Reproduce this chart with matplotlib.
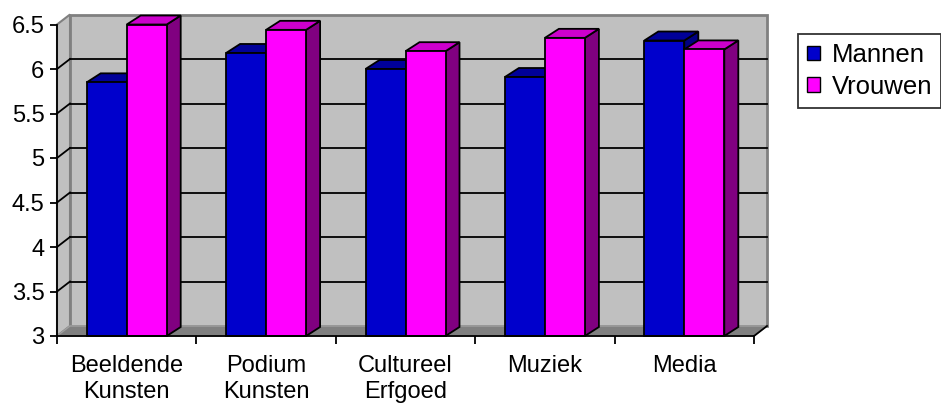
import matplotlib
matplotlib.use('Agg')
import matplotlib.pyplot as plt
from matplotlib.patches import Polygon, Rectangle, Patch
import numpy as np

categories = ['Beeldende\nKunsten', 'Podium\nKunsten', 'Cultureel\nErfgoed', 'Muziek', 'Media']
mannen = [5.85, 6.18, 6.0, 5.91, 6.32]
vrouwen = [6.5, 6.44, 6.2, 6.35, 6.22]
yticks = [3, 3.5, 4, 4.5, 5, 5.5, 6, 6.5]
ytick_labels = ['3', '3.5', '4', '4.5', '5', '5.5', '6', '6.5']
series_names = ['Mannen', 'Vrouwen']

plt.rcParams['font.family'] = ['Liberation Sans', 'DejaVu Sans']

W, H = 941, 403
fig = plt.figure(figsize=(W / 100, H / 100), dpi=100)
ax = fig.add_axes([57 / W, 67 / H, 697 / W, 311.5 / H])
ax.patch.set_visible(False)
n = len(categories)
ymin, ymax = yticks[0], yticks[-1]
ax.set_xlim(0, n)
ax.set_ylim(ymin, ymax)

# pixel offsets for the fake 3d depth, converted to data units
px_x = n / 697
px_y = (ymax - ymin) / 311.5
wdx, wdy = 13 * px_x, 10 * px_y
bdx, bdy = 14 * px_x, 9 * px_y

# walls and floor
ax.add_patch(Polygon([(0, ymin), (0, ymax), (wdx, ymax + wdy), (wdx, ymin + wdy)],
                     fc='#c0c0c0', ec='#808080', lw=1.5, clip_on=False, zorder=0))
ax.add_patch(Rectangle((wdx, ymin + wdy), n, ymax - ymin,
                       fc='#c0c0c0', ec='#808080', lw=2, clip_on=False, zorder=0))
ax.add_patch(Polygon([(0, ymin), (n, ymin), (n + wdx, ymin + wdy), (wdx, ymin + wdy)],
                     fc='#808080', ec='#a0a0a0', lw=1, clip_on=False, zorder=0.5))

# gridlines on back wall and side wall
for y in yticks[1:-1]:
    ax.plot([wdx, n + wdx], [y + wdy, y + wdy], color='black', lw=1.3, zorder=1, clip_on=False)
    ax.plot([0, wdx], [y, y + wdy], color='black', lw=1.3, zorder=1, clip_on=False)
ax.plot([n, n + wdx], [ymin, ymin + wdy], color='black', lw=1.3, zorder=1, clip_on=False)

bw = 40 * px_x
x = np.arange(n) + 0.5
series = [(mannen, '#0000cc', '#000099', '#000080', 2),
          (vrouwen, '#ff00ff', '#cc00cc', '#800080', 3)]
for k, (vals, front, top, side, z) in enumerate(series):
    left = x - bw + k * bw
    bars = ax.bar(left, np.array(vals) - ymin, bw, bottom=ymin, align='edge', color=front,
                  edgecolor='black', lw=1.3, zorder=z + 0.1)
    for b in bars:
        b.set_clip_on(False)
    for x0, v in zip(left, vals):
        x1 = x0 + bw
        ax.add_patch(Polygon([(x1, ymin), (x1, v), (x1 + bdx, v + bdy), (x1 + bdx, ymin + bdy)],
                             fc=side, ec='black', lw=1.3, zorder=z, joinstyle='miter', clip_on=False))
        ax.add_patch(Polygon([(x0, v), (x1, v), (x1 + bdx, v + bdy), (x0 + bdx, v + bdy)],
                             fc=top, ec='black', lw=1.3, zorder=z, joinstyle='miter', clip_on=False))

for s in ['top', 'right']:
    ax.spines[s].set_visible(False)
for s in ['left', 'bottom']:
    ax.spines[s].set_linewidth(1.3)
    ax.spines[s].set_zorder(5)

ax.set_yticks(yticks, ytick_labels)
ax.tick_params(axis='y', direction='out', length=5, width=1.3, labelsize=17, pad=4)
ax.set_xticks(x, categories)
ax.set_xticks(np.arange(n + 1), minor=True)
ax.tick_params(axis='x', which='major', length=0, pad=14, labelsize=17)
ax.tick_params(axis='x', which='minor', direction='out', length=6, width=1.3)
for lbl in ax.get_xticklabels():
    lbl.set_linespacing(1.2)

handles = [Patch(fc='#0000cc', ec='black', label=series_names[0]),
           Patch(fc='#ff00ff', ec='black', label=series_names[1])]
leg = fig.legend(handles=handles, loc='upper left', bbox_to_anchor=(798 / W, 1 - 34 / H),
                 fancybox=False, edgecolor='black', fontsize=18.5, handlelength=0.5,
                 handleheight=0.5, handletextpad=0.45, borderpad=0.35, labelspacing=0.3,
                 borderaxespad=0)
leg.get_frame().set_linewidth(1.3)

fig.savefig('out.png', dpi=100)
